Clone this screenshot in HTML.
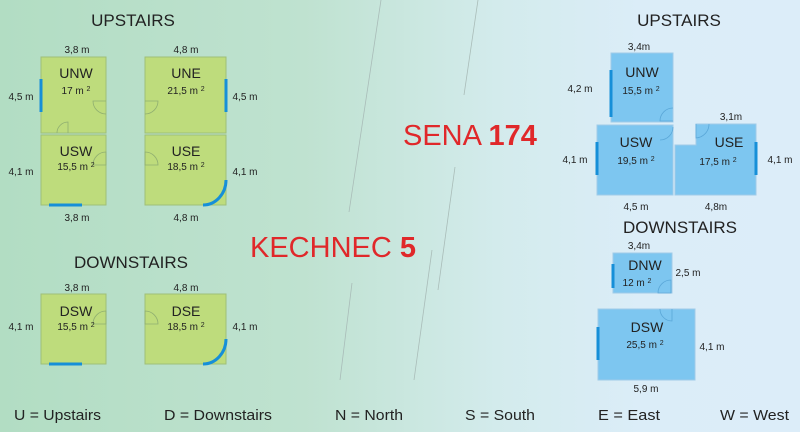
<!DOCTYPE html>
<html><head><meta charset="utf-8"><style>
html,body{margin:0;padding:0}
body{width:800px;height:432px;overflow:hidden}
svg text{font-family:"Liberation Sans",sans-serif;fill:#222}
</style></head><body>
<svg width="800" height="432" viewBox="0 0 800 432" xmlns="http://www.w3.org/2000/svg">
<defs>
<linearGradient id="bg" x1="0" y1="0" x2="1" y2="0">
<stop offset="0" stop-color="#b2ddc3"/>
<stop offset="0.38" stop-color="#bfe2d0"/>
<stop offset="0.62" stop-color="#d3ebec"/>
<stop offset="0.8" stop-color="#dbedf8"/>
<stop offset="1" stop-color="#dcedf9"/>
</linearGradient>
</defs>
<rect width="800" height="432" fill="url(#bg)"/>
<g stroke="#a9bcb8" stroke-width="0.8">
<line x1="381" y1="0" x2="349" y2="212"/>
<line x1="352" y1="283" x2="340" y2="380"/>
<line x1="478" y1="0" x2="464" y2="95"/>
<line x1="455" y1="167" x2="438" y2="290"/>
<line x1="432" y1="250" x2="414" y2="380"/>
</g>

<text x="133" y="26" font-size="17" text-anchor="middle">UPSTAIRS</text>
<g fill="#bedc7c" stroke="#9fbf78" stroke-width="1">
<rect x="41" y="57" width="65" height="76"/>
<rect x="145" y="57" width="81" height="76"/>
<rect x="41" y="135" width="65" height="70"/>
<rect x="145" y="135" width="81" height="70"/>
<rect x="41" y="294" width="65" height="70"/>
<rect x="145" y="294" width="81" height="70"/>
</g>
<g fill="none" stroke="#8fae70" stroke-width="0.8">
<path d="M106,101 h-13 a13,13 0 0 0 13,13"/>
<path d="M145,101 h13 a13,13 0 0 1 -13,13"/>
<path d="M68,133 v-11 a11,11 0 0 0 -11,11"/>
<path d="M106,165 v-13 a13,13 0 0 0 -13,13 z"/>
<path d="M145,165 v-13 a13,13 0 0 1 13,13 z"/>
<path d="M106,324 v-13 a13,13 0 0 0 -13,13 z"/>
<path d="M145,324 v-13 a13,13 0 0 1 13,13 z"/>
</g>
<g stroke="#168fd8" stroke-width="3" fill="none">
<line x1="41" y1="79" x2="41" y2="112"/>
<line x1="226" y1="79" x2="226" y2="112"/>
<line x1="49" y1="205" x2="82" y2="205"/>
<path d="M203,205 a23,25 0 0 0 23,-25"/>
<line x1="49" y1="364" x2="82" y2="364"/>
<path d="M203,364 a23,25 0 0 0 23,-25"/>
</g>
<g font-size="10" text-anchor="middle">
<text x="77" y="53">3,8 m</text><text x="186" y="53">4,8 m</text>
<text x="21" y="100">4,5 m</text><text x="245" y="100">4,5 m</text>
<text x="21" y="175">4,1 m</text><text x="245" y="175">4,1 m</text>
<text x="77" y="221">3,8 m</text><text x="186" y="221">4,8 m</text>
<text x="77" y="291">3,8 m</text><text x="186" y="291">4,8 m</text>
<text x="21" y="330">4,1 m</text><text x="245" y="330">4,1 m</text>
</g>
<g font-size="14" text-anchor="middle">
<text x="76" y="78">UNW</text><text x="186" y="78">UNE</text>
<text x="76" y="156">USW</text><text x="186" y="156">USE</text>
<text x="76" y="316">DSW</text><text x="186" y="316">DSE</text>
</g>
<g font-size="10" text-anchor="middle">
<text x="76" y="94">17 m <tspan font-size="7" dy="-3">2</tspan></text>
<text x="186" y="94">21,5 m <tspan font-size="7" dy="-3">2</tspan></text>
<text x="76" y="170">15,5 m <tspan font-size="7" dy="-3">2</tspan></text>
<text x="186" y="170">18,5 m <tspan font-size="7" dy="-3">2</tspan></text>
<text x="76" y="330">15,5 m <tspan font-size="7" dy="-3">2</tspan></text>
<text x="186" y="330">18,5 m <tspan font-size="7" dy="-3">2</tspan></text>
</g>
<text x="131" y="268" font-size="17" text-anchor="middle">DOWNSTAIRS</text>

<text x="250" y="257" font-size="29" style="fill:#e0282a">KECHNEC <tspan font-weight="bold">5</tspan></text>
<text x="403" y="145" font-size="29" style="fill:#e0282a">SENA <tspan font-weight="bold">174</tspan></text>

<text x="679" y="26" font-size="17" text-anchor="middle">UPSTAIRS</text>
<text x="680" y="233" font-size="17" text-anchor="middle">DOWNSTAIRS</text>
<g fill="#7dc6f0" stroke="#a0cbe8" stroke-width="1">
<rect x="611" y="53" width="62" height="69"/>
<rect x="597" y="125" width="76" height="70"/>
<path d="M696,124 H756 V195 H675 V145 H696 Z"/>
<rect x="613" y="253" width="59" height="40"/>
<rect x="598" y="309" width="97" height="71"/>
</g>
<g fill="none" stroke="#5aa7d8" stroke-width="0.8">
<path d="M673,108 a13,13 0 0 0 -13,13 h13"/>
<path d="M673,127 a13,13 0 0 1 -13,13"/>
<path d="M696,124 v14 a14,14 0 0 0 13,-14"/>
<path d="M671,280 a13,13 0 0 0 -13,13 h13 z"/>
<path d="M672,309 v12 a12,12 0 0 1 -12,-12"/>
</g>
<g stroke="#168fd8" stroke-width="3">
<line x1="611" y1="70" x2="611" y2="117"/>
<line x1="597" y1="142" x2="597" y2="175"/>
<line x1="756" y1="142" x2="756" y2="175"/>
<line x1="613" y1="264" x2="613" y2="288"/>
<line x1="598" y1="327" x2="598" y2="360"/>
</g>
<g font-size="10" text-anchor="middle">
<text x="639" y="50">3,4m</text>
<text x="580" y="92">4,2 m</text>
<text x="575" y="163">4,1 m</text>
<text x="731" y="120">3,1m</text>
<text x="780" y="163">4,1 m</text>
<text x="636" y="210">4,5 m</text>
<text x="716" y="210">4,8m</text>
<text x="639" y="249">3,4m</text>
<text x="688" y="276">2,5 m</text>
<text x="712" y="350">4,1 m</text>
<text x="646" y="392">5,9 m</text>
</g>
<g font-size="14" text-anchor="middle">
<text x="642" y="77">UNW</text>
<text x="636" y="147">USW</text>
<text x="729" y="147">USE</text>
<text x="645" y="270">DNW</text>
<text x="647" y="332">DSW</text>
</g>
<g font-size="10" text-anchor="middle">
<text x="641" y="94">15,5 m <tspan font-size="7" dy="-3">2</tspan></text>
<text x="636" y="164">19,5 m <tspan font-size="7" dy="-3">2</tspan></text>
<text x="718" y="165">17,5 m <tspan font-size="7" dy="-3">2</tspan></text>
<text x="637" y="286">12 m <tspan font-size="7" dy="-3">2</tspan></text>
<text x="645" y="348">25,5 m <tspan font-size="7" dy="-3">2</tspan></text>
</g>

<g font-size="15">
<text x="14" y="420" textLength="87" lengthAdjust="spacingAndGlyphs">U = Upstairs</text>
<text x="164" y="420" textLength="108" lengthAdjust="spacingAndGlyphs">D = Downstairs</text>
<text x="335" y="420" textLength="68" lengthAdjust="spacingAndGlyphs">N = North</text>
<text x="465" y="420" textLength="70" lengthAdjust="spacingAndGlyphs">S = South</text>
<text x="598" y="420" textLength="62" lengthAdjust="spacingAndGlyphs">E = East</text>
<text x="720" y="420" textLength="69" lengthAdjust="spacingAndGlyphs">W = West</text>
</g>
</svg>
</body></html>
